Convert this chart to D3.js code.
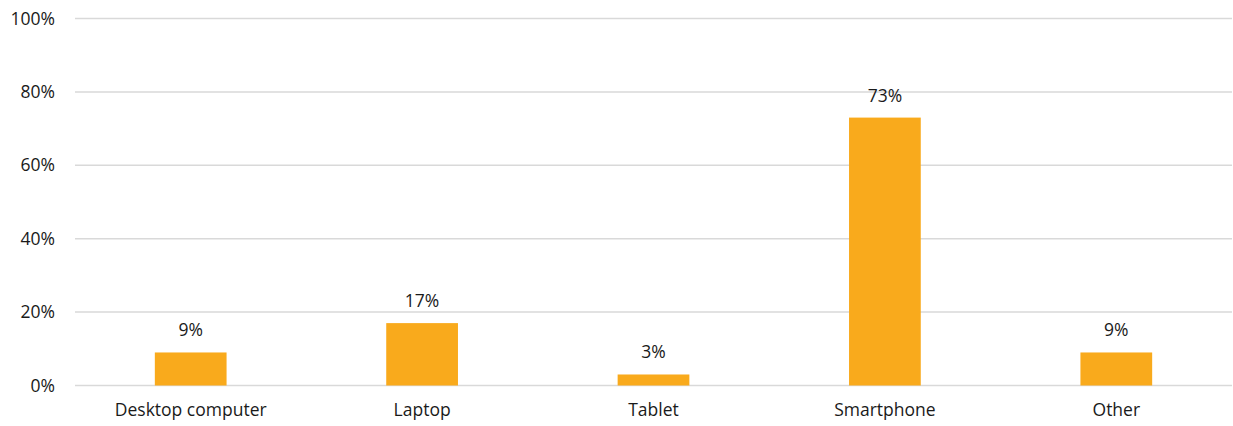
<!DOCTYPE html>
<html><head><meta charset="utf-8">
<script src="https://cdn.jsdelivr.net/npm/d3@7"></script>
<style>body{margin:0;background:#fff;} text{font-family:"Open Sans","Noto Sans",sans-serif;fill:#1a1a1a;}</style>
</head><body><svg id="c" width="1233" height="426"></svg>
<script>
const categories = ["Desktop computer","Laptop","Tablet","Smartphone","Other"];
const values = [9, 17, 3, 73, 9];
const yTicks = [0, 20, 40, 60, 80, 100];

const svg = d3.select("#c");
const m = {left:75, right:1, top:18.5, bottom:40.5};
const W = 1233, H = 426;
const x = d3.scaleBand().domain(categories).range([m.left, W - m.right]).paddingInner(0.69).paddingOuter(0.345);
const y = d3.scaleLinear().domain([0,100]).range([H - m.bottom, m.top]);
const fs = "17.5px";

const grid = svg.append("g");
grid.selectAll("line").data(yTicks).join("line")
  .attr("x1", m.left).attr("x2", W - m.right)
  .attr("y1", d => y(d)).attr("y2", d => y(d))
  .attr("stroke", "#d9d9d9").attr("stroke-width", 1.5);

const yAxis = svg.append("g").attr("transform", `translate(${m.left},0)`)
  .call(d3.axisLeft(y).tickValues(yTicks).tickFormat(d => d + "%").tickSize(0).tickPadding(20));
yAxis.select(".domain").remove();
yAxis.selectAll("text").style("font-size",fs).attr("fill","#1a1a1a");

svg.append("g").selectAll("rect").data(values).join("rect")
  .attr("x", (d,i) => x(categories[i])).attr("width", x.bandwidth())
  .attr("y", d => y(d)).attr("height", d => y(0) - y(d))
  .attr("fill", "#f9aa1c");

svg.append("g").selectAll("text").data(values).join("text")
  .attr("x", (d,i) => x(categories[i]) + x.bandwidth()/2)
  .attr("y", d => y(d) - 16)
  .attr("text-anchor","middle").style("font-size",fs)
  .text(d => d + "%");

const xAxis = svg.append("g").attr("transform", `translate(0,${y(0)})`)
  .call(d3.axisBottom(x).tickSize(0).tickPadding(18));
xAxis.select(".domain").remove();
xAxis.selectAll("text").style("font-size",fs).attr("fill","#1a1a1a");
</script></body></html>
